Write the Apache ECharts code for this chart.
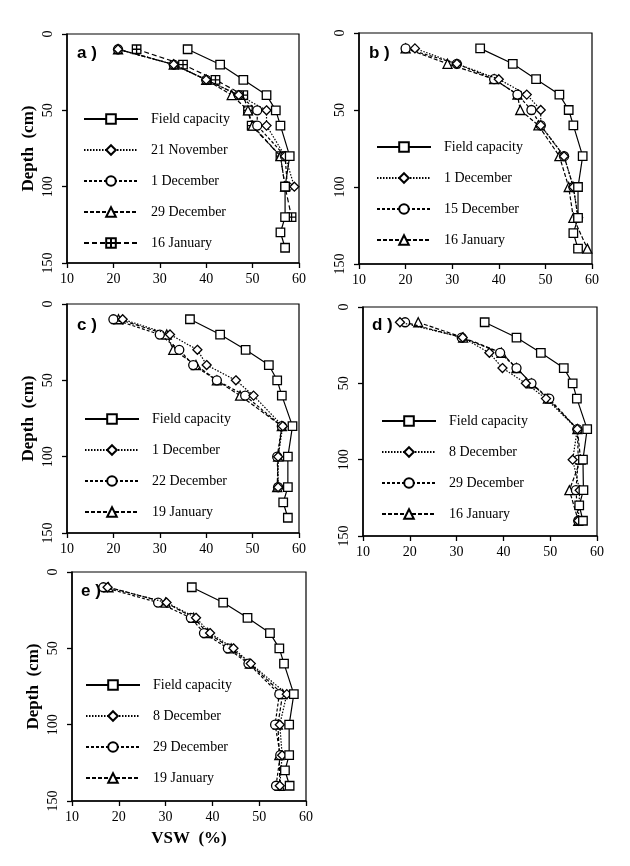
<!DOCTYPE html>
<html><head><meta charset="utf-8">
<script src="https://cdn.jsdelivr.net/npm/echarts@6/dist/echarts.min.js"></script>
<style>html,body{margin:0;padding:0;background:#fff}#c{width:630px;height:866px}</style>
</head><body><div id="c"></div>
<script>
// ---- data ----
const xTicks = [10, 20, 30, 40, 50, 60];
const yTicks = [0, 50, 100, 150];
const depthFC = [10, 20, 30, 40, 50, 60, 80, 100, 120, 130, 140];
const depthTo100 = [10, 20, 30, 40, 50, 60, 80, 100];
const depthTo120 = [10, 20, 30, 40, 50, 60, 80, 100, 120];
const depthTo140 = [10, 20, 30, 40, 50, 60, 80, 100, 120, 140];

// panel a
const aNames = ['Field capacity', '21 November', '1 December', '29 December', '16 January'];
const aFC    = [36, 43, 48, 53, 55, 56, 58, 57, 57, 56, 57];
const a21Nov = [21, 33, 40, 47, 53, 53, 57, 59];
const a1Dec  = [21, 33, 40, 47, 51, 51, 57, 57.5];
const a29Dec = [21, 33, 40, 45.5, 49, 50, 56, 57];
const a16Jan = [25, 35, 42, 48, 49, 49.8, 56, 57, 58.4];

// panel b
const bNames = ['Field capacity', '1 December', '15 December', '16 January'];
const bFC    = [36, 43, 48, 53, 55, 56, 58, 57, 57, 56, 57];
const b1Dec  = [22, 31, 40, 46, 49, 49, 54, 56, 57];
const b15Dec = [20, 31, 39, 44, 47, 49, 54, 56, 57];
const b16Jan = [20, 29, 39, 44, 44.6, 48.5, 53, 55, 56, 59];

// panel c
const cNames = ['Field capacity', '1 December', '22 December', '19 January'];
const cFC    = [36.5, 43, 48.5, 53.5, 55.3, 56.3, 58.6, 57.6, 57.6, 56.6, 57.6];
const c1Dec  = [22, 32.2, 38.1, 40.1, 46.4, 50.2, 56.5, 55.5, 55.5];
const c22Dec = [20, 30, 34.2, 37.2, 42.3, 48.4, 56.3, 55.3, 55.5];
const c19Jan = [21.1, 31.5, 32.9, 37.8, 42.3, 47.3, 56.3, 55.5, 55.3];

// panel d
const dNames = ['Field capacity', '8 December', '29 December', '16 January'];
const dFC    = [36, 42.8, 48, 52.9, 54.8, 55.7, 57.9, 57, 57.1, 56.2, 57];
const d8Dec  = [17.9, 31.3, 37, 39.8, 44.8, 49.1, 55.8, 54.8, 56.3, 56];
const d29Dec = [19, 31.1, 39.3, 42.8, 46, 49.8, 55.8, 56, 55.5, 56];
const d16Jan = [21.8, 31.4, 39.6, 42.8, 46, 49.5, 55.8, 56.5, 54.1, 56];

// panel e
const eNames = ['Field capacity', '8 December', '29 December', '19 January'];
const eFC    = [35.6, 42.3, 47.5, 52.3, 54.3, 55.3, 57.4, 56.4, 56.4, 55.5, 56.5];
const e8Dec  = [17.6, 30.2, 36.5, 39.5, 44.5, 48.2, 55.9, 54.4, 54.9, 54.4];
const e29Dec = [16.7, 28.4, 35.4, 38.2, 43.3, 47.7, 54.3, 53.4, 54.5, 53.6];
const e19Jan = [17.8, 30, 36, 39, 44, 48, 55, 54, 54.3, 54.4];

// ---- styles ----
const SERIF = '"Liberation Serif", "DejaVu Serif", serif';
const boxedPlus = 'path://M0,0H10V10H0Z M5,0V10 M0,5H10';
const styles = [
  {symbol: 'rect', size: 8.5, dash: 'solid'},
  {symbol: 'diamond', size: 9, dash: [1.5, 1.5]},
  {symbol: 'circle', size: 9, dash: [3, 2]},
  {symbol: 'triangle', size: 9, dash: [4, 2]},
  {symbol: boxedPlus, size: 8.5, dash: [5, 3]}
];
const stylesBCDE = [styles[0], styles[1], styles[2], styles[3]];

const panels = [
  {key: 'a', names: aNames, values: [aFC, a21Nov, a1Dec, a29Dec, a16Jan],
   depths: [depthFC, depthTo100, depthTo100, depthTo100, depthTo120], sty: styles,
   grid: {left: 67, top: 34, width: 232, height: 229}, legend: {left: 83, top: 112},
   label: {left: 77, top: 45}, yName: true, xName: false},
  {key: 'b', names: bNames, values: [bFC, b1Dec, b15Dec, b16Jan],
   depths: [depthFC, depthTo120, depthTo120, depthTo140], sty: stylesBCDE,
   grid: {left: 359, top: 33, width: 233, height: 231}, legend: {left: 376, top: 140},
   label: {left: 369, top: 45}, yName: false, xName: false},
  {key: 'c', names: cNames, values: [cFC, c1Dec, c22Dec, c19Jan],
   depths: [depthFC, depthTo120, depthTo120, depthTo120], sty: stylesBCDE,
   grid: {left: 67, top: 304, width: 232, height: 229}, legend: {left: 84, top: 412},
   label: {left: 77, top: 317}, yName: true, xName: false},
  {key: 'd', names: dNames, values: [dFC, d8Dec, d29Dec, d16Jan],
   depths: [depthFC, depthTo140, depthTo140, depthTo140], sty: stylesBCDE,
   grid: {left: 363, top: 307, width: 234, height: 229}, legend: {left: 381, top: 414},
   label: {left: 372, top: 317}, yName: false, xName: false},
  {key: 'e', names: eNames, values: [eFC, e8Dec, e29Dec, e19Jan],
   depths: [depthFC, depthTo140, depthTo140, depthTo140], sty: stylesBCDE,
   grid: {left: 72, top: 572, width: 234, height: 229}, legend: {left: 85, top: 678},
   label: {left: 81, top: 583}, yName: true, xName: true}
];

const grids = [], xAxes = [], yAxes = [], series = [], legends = [], graphics = [];
panels.forEach((p, i) => {
  grids.push(Object.assign({show: true, borderColor: '#000', borderWidth: 1.2, containLabel: false}, p.grid));
  xAxes.push({
    type: 'value', gridIndex: i, min: 10, max: 60, interval: 10,
    axisLine: {show: true, onZero: false, lineStyle: {color: '#000', width: 1.5}},
    axisTick: {show: true, inside: false, length: 5, lineStyle: {color: '#000', width: 1.3}},
    axisLabel: {color: '#000', fontFamily: SERIF, fontSize: 14, margin: 9,
      formatter: v => xTicks.includes(v) ? String(v) : ''},
    splitLine: {show: false},
    name: p.xName ? 'VSW  (%)' : '', nameLocation: 'middle', nameGap: 29,
    nameTextStyle: {color: '#000', fontFamily: SERIF, fontSize: 17, fontWeight: 'bold'}
  });
  yAxes.push({
    type: 'value', gridIndex: i, min: 0, max: 150, interval: 50, inverse: true,
    axisLine: {show: true, onZero: false, lineStyle: {color: '#000', width: 1.5}},
    axisTick: {show: true, inside: false, length: 5, lineStyle: {color: '#000', width: 1.3}},
    axisLabel: {color: '#000', fontFamily: SERIF, fontSize: 14, margin: 12, rotate: 90,
      formatter: v => yTicks.includes(v) ? String(v) : ''},
    splitLine: {show: false},
    name: p.yName ? 'Depth  (cm)' : '', nameLocation: 'middle', nameGap: 30, nameRotate: 90,
    nameTextStyle: {color: '#000', fontFamily: SERIF, fontSize: 17, fontWeight: 'bold'}
  });
  const lnames = [];
  p.names.forEach((nm, j) => {
    const id = p.key + '|' + nm;
    lnames.push(id);
    const st = p.sty[j];
    series.push({
      type: 'line', name: id, xAxisIndex: i, yAxisIndex: i,
      data: p.values[j].map((v, k) => [v, p.depths[j][k]]),
      symbol: st.symbol, symbolSize: st.size, showAllSymbol: true,
      lineStyle: {color: '#000', width: 1.2, type: st.dash},
      itemStyle: {color: '#fff', borderColor: '#000', borderWidth: 1.3},
      z: 10 - j, animation: false
    });
  });
  legends.push({
    show: true, orient: 'vertical', left: p.legend.left, top: p.legend.top,
    data: lnames, itemWidth: 54, itemHeight: 12, itemGap: 17, selectedMode: false,
    formatter: n => n.split('|')[1],
    textStyle: {color: '#000', fontFamily: SERIF, fontSize: 14, padding: [0, 0, 0, 8]},
    padding: 0
  });
  graphics.push({type: 'text', left: p.label.left, top: p.label.top,
    style: {text: p.key + ' )', fill: '#000', font: 'bold 17px "Liberation Sans", Arial, sans-serif'}});
});

const chart = echarts.init(document.getElementById('c'), null, {renderer: 'canvas'});
chart.setOption({
  backgroundColor: '#fff', animation: false,
  grid: grids, xAxis: xAxes, yAxis: yAxes, series: series, legend: legends, graphic: graphics
});
</script></body></html>
